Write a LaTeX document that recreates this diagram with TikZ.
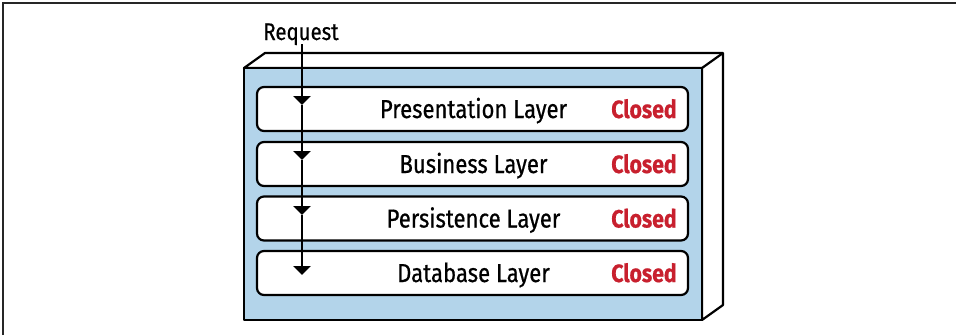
\documentclass[tikz,border=0pt]{standalone}
\usepackage{fontspec}
\setmainfont{Fira Sans}
\newfontfamily\condfont{Fira Sans}[FakeStretch=0.85, FakeBold=0.6]
\usetikzlibrary{arrows.meta}
\definecolor{boxblue}{RGB}{179,212,234}
\definecolor{closedred}{RGB}{200,32,46}
\tikzset{
  layerbox/.style={draw=black, line width=2.2pt, fill=white, rounded corners=7pt,
    minimum width=431pt, minimum height=44pt, inner sep=0pt},
  layertext/.style={font=\condfont\fontsize{26}{29}\selectfont, text=black, inner sep=0pt, anchor=base},
  closedtext/.style={font=\condfont\fontsize{25}{28}\selectfont\bfseries, text=closedred, inner sep=0pt, anchor=base},
  flow/.style={line width=2.8pt, -{Triangle[width=17pt,length=9pt]}},
  edge3d/.style={draw=black, line width=2.2pt, line join=round},
}
\begin{document}
\begin{tikzpicture}[x=1pt,y=-1pt]
\useasboundingbox (0,0) rectangle (956,335);
% partial frame
\draw[line width=2pt, draw=black!85] (3,335) -- (3,3) -- (956,3);
% 3D box
\filldraw[edge3d, fill=white] (244,68) -- (265,53) -- (723,53) -- (723,305) -- (702,320) -- (702,68) -- cycle;
\draw[edge3d] (702,68) -- (723,53);
\filldraw[edge3d, fill=boxblue] (244,68) rectangle (702,320);
% layers
\node[layerbox] (l1) at (472.5,109) {};
\node[layerbox] (l2) at (472.5,164) {};
\node[layerbox] (l3) at (472.5,218.5) {};
\node[layerbox] (l4) at (472.5,273) {};
\node[layertext] (t1) at (473.5,118) {Presentation Layer};
\node[layertext] (t2) at (473.5,173) {Business Layer};
\node[layertext] (t3) at (473.5,227.5) {Persistence Layer};
\node[layertext] (t4) at (473.5,282) {Database Layer};
\node[closedtext] (c1) at (644,118) {Closed};
\node[closedtext] (c2) at (644,173) {Closed};
\node[closedtext] (c3) at (644,227.5) {Closed};
\node[closedtext] (c4) at (644,282) {Closed};
% request arrow
\node[layertext, font=\condfont\fontsize{24}{28}\selectfont] (req) at (301,40) {Request};
\coordinate (a0) at (302,44);
\coordinate (a1) at (302,105);
\coordinate (a2) at (302,160);
\coordinate (a3) at (302,215);
\coordinate (a4) at (302,275);
\draw[flow] (a0) -- (a1);
\draw[flow] (a1) -- (a2);
\draw[flow] (a2) -- (a3);
\draw[flow] (a3) -- (a4);
\end{tikzpicture}
\end{document}
